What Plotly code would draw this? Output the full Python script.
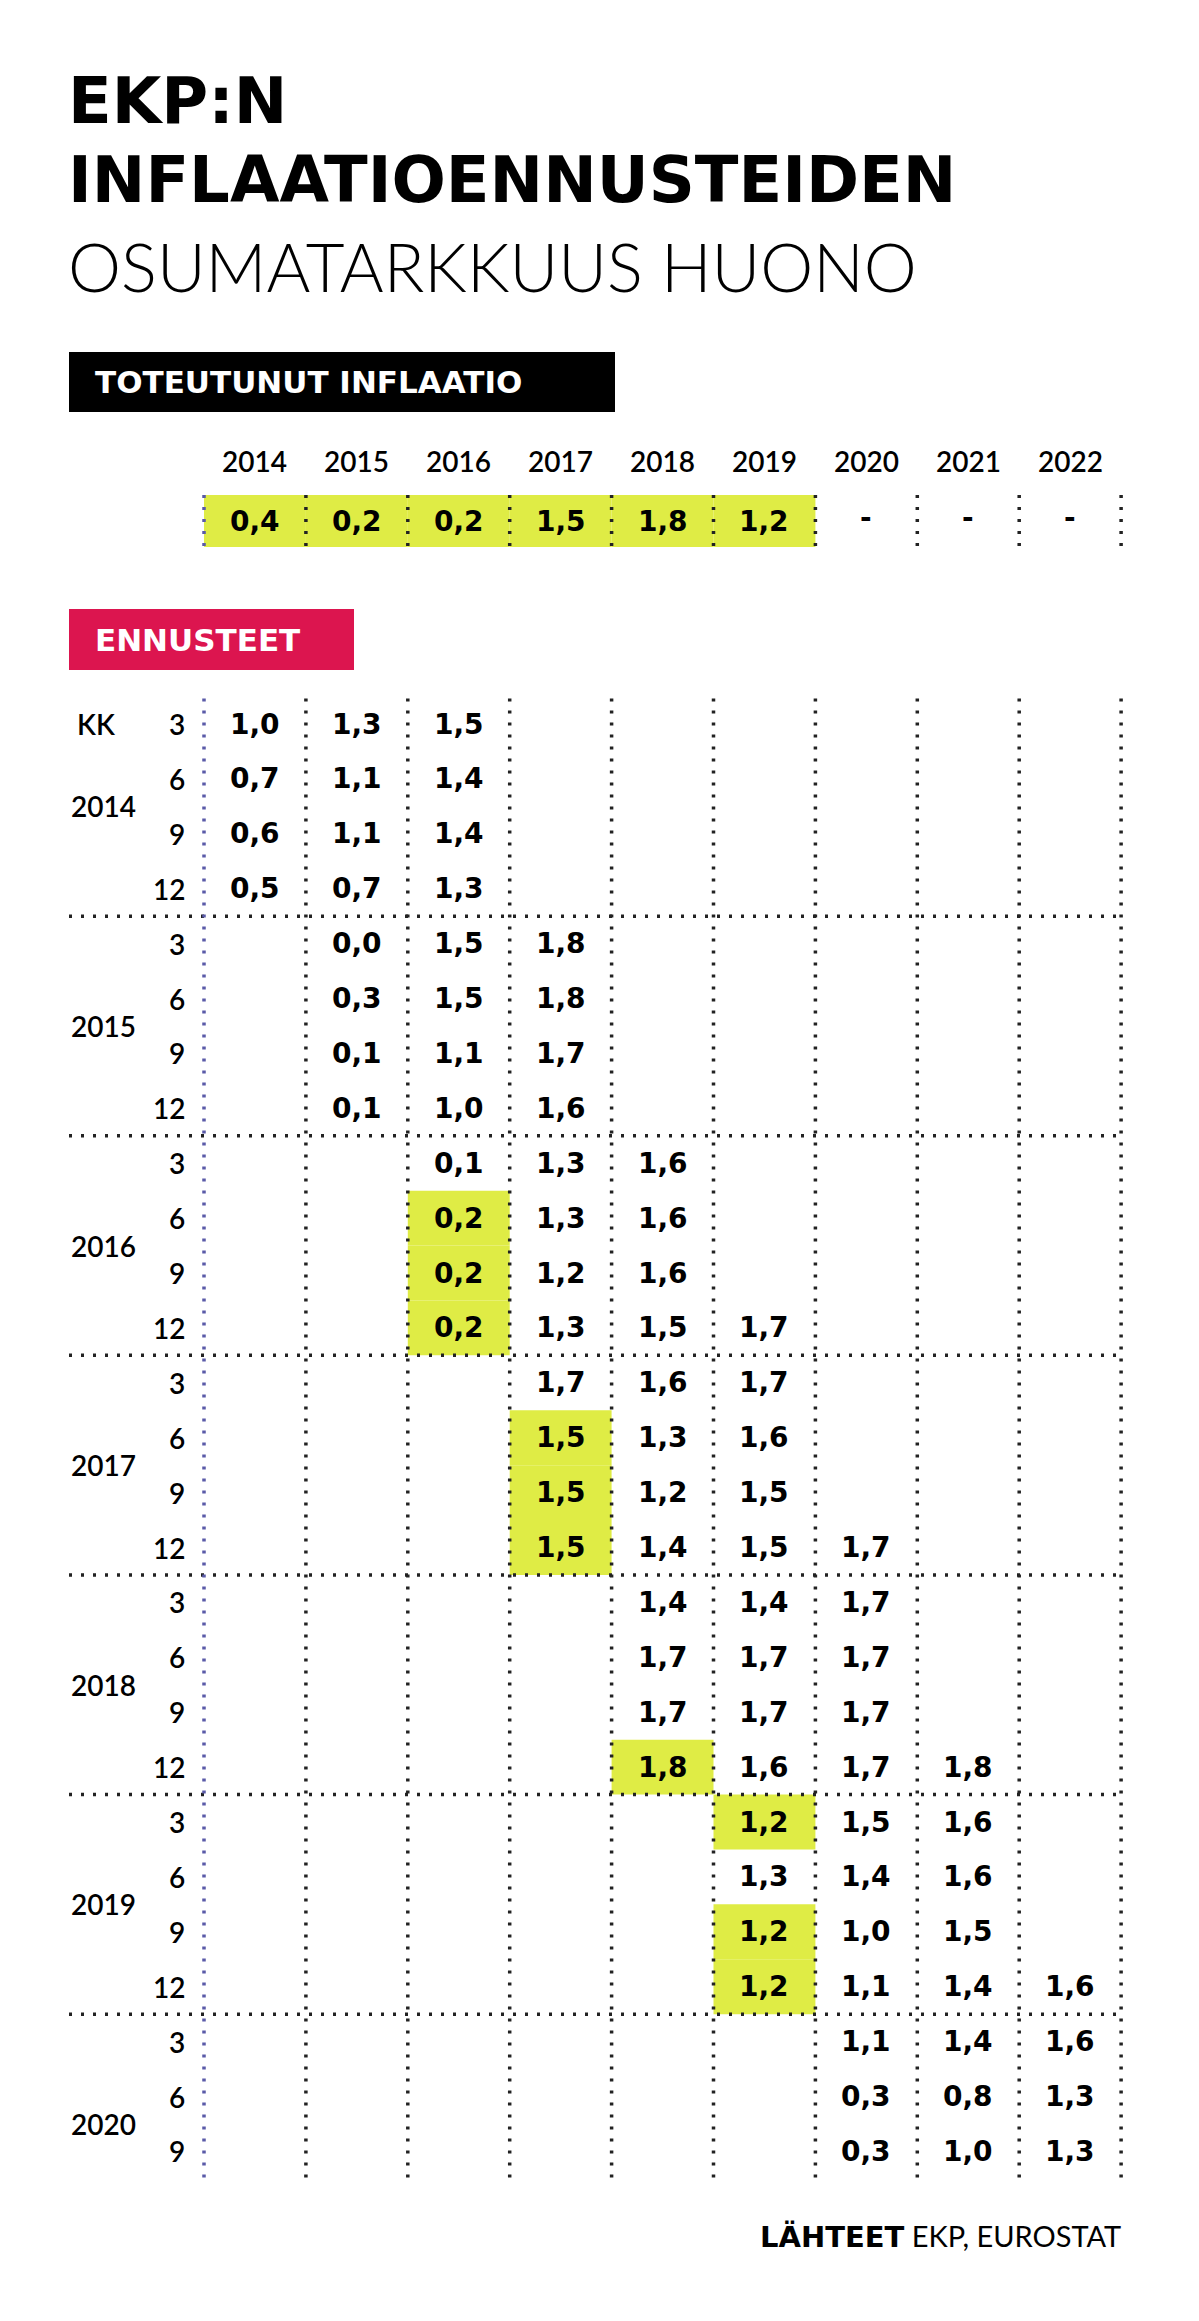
import plotly.graph_objects as go

years = ["2014", "2015", "2016", "2017", "2018", "2019", "2020", "2021", "2022"]
actual = [0.4, 0.2, 0.2, 1.5, 1.8, 1.2, None, None, None]
forecast_years = ["2014", "2015", "2016", "2017", "2018", "2019", "2020"]
months = [3, 6, 9, 12]
start_col = [0, 1, 2, 3, 4, 5, 6]
forecasts = {
    "2014": [[1.0, 1.3, 1.5], [0.7, 1.1, 1.4], [0.6, 1.1, 1.4], [0.5, 0.7, 1.3]],
    "2015": [[0.0, 1.5, 1.8], [0.3, 1.5, 1.8], [0.1, 1.1, 1.7], [0.1, 1.0, 1.6]],
    "2016": [[0.1, 1.3, 1.6], [0.2, 1.3, 1.6], [0.2, 1.2, 1.6], [0.2, 1.3, 1.5, 1.7]],
    "2017": [[1.7, 1.6, 1.7], [1.5, 1.3, 1.6], [1.5, 1.2, 1.5], [1.5, 1.4, 1.5, 1.7]],
    "2018": [[1.4, 1.4, 1.7], [1.7, 1.7, 1.7], [1.7, 1.7, 1.7], [1.8, 1.6, 1.7, 1.8]],
    "2019": [[1.2, 1.5, 1.6], [1.3, 1.4, 1.6], [1.2, 1.0, 1.5], [1.2, 1.1, 1.4, 1.6]],
    "2020": [[1.1, 1.4, 1.6], [0.3, 0.8, 1.3], [0.3, 1.0, 1.3]],
}

W, H = 1199, 2321
X0, CW = 196, 101.9
ROW0, RP = 716, 54.9
LX = 61
YEL, RED = "#dfec45", "#dc154f"
FONT = "Lato"
BOLD = "DejaVu Sans"

def fmt(v):
    return f"{v:.1f}".replace(".", ",")

shapes, ann = [], []

def text(x, y, s, size, weight=900, color="black", xanchor="center", family=FONT):
    ann.append(dict(x=x, y=y, text=s, showarrow=False, xanchor=xanchor, yanchor="middle",
                    font=dict(family=family, size=size, color=color, weight=weight)))

def rect(x0, y0, x1, y1, color):
    shapes.append(dict(type="rect", x0=x0, x1=x1, y0=y0, y1=y1, fillcolor=color, line=dict(width=0), layer="below"))

def dline(x0, y0, x1, y1, color="#222"):
    shapes.append(dict(type="line", x0=x0, x1=x1, y0=y0, y1=y1, line=dict(color=color, width=3.5, dash="3px,9px")))

# Title
text(LX - 3, 93, "EKP:N", 64, 700, xanchor="left", family=BOLD)
text(LX - 3, 172, "INFLAATIOENNUSTEIDEN", 64, 700, xanchor="left", family=BOLD)
text(LX - 3, 258, "OSUMATARKKUUS HUONO", 67, 300, xanchor="left")

# Actual section
rect(LX, 344, 607, 404, "black")
text(LX + 24, 374, "TOTEUTUNUT INFLAATIO", 31, 700, "white", xanchor="left", family=BOLD)
for i, y in enumerate(years):
    cx = X0 + CW * (i + 0.5)
    text(cx, 453, y, 28, 600)
    if actual[i] is not None:
        rect(X0 + CW * i, 487, X0 + CW * (i + 1), 539, YEL)
        text(cx, 513, fmt(actual[i]), 28, 700, family=BOLD)
    else:
        text(cx, 509, "-", 28, 700, family=BOLD)
for i in range(len(years) + 1):
    dline(X0 + CW * i, 487, X0 + CW * i, 539, "#5a5aa8" if i == 0 else "#222")

# Forecast section
rect(LX, 601, 346, 662, RED)
text(LX + 24, 632, "ENNUSTEET", 31, 700, "white", xanchor="left", family=BOLD)

row = 0
for g, fy in enumerate(forecast_years):
    rows = forecasts[fy]
    first = row
    for m_i, vals in enumerate(rows):
        y = ROW0 + RP * row
        text(179, y, str(months[m_i]), 28, 600, xanchor="right")
        for k, v in enumerate(vals):
            c = start_col[g] + k
            cx = X0 + CW * (c + 0.5)
            if k == 0 and actual[c] is not None and abs(v - actual[c]) < 1e-9:
                rect(X0 + CW * c, y - RP / 2, X0 + CW * (c + 1), y + RP / 2, YEL)
            text(cx, y, fmt(v), 28, 700, family=BOLD)
        row += 1
    text(LX, ROW0 + RP * (first + 1.5), fy, 28, 600, xanchor="left")
    if g < len(forecast_years) - 1:
        ys = ROW0 + RP * (row - 0.5)
        dline(LX, ys, X0 + CW * 9, ys)
text(LX + 6, ROW0, "KK", 28, 600, xanchor="left")

ytop, ybot = ROW0 - RP / 2 + 2, ROW0 + RP * (row - 0.5)
for i in range(len(years) + 1):
    dline(X0 + CW * i, ytop, X0 + CW * i, ybot, "#5a5aa8" if i == 0 else "#222")

ann.append(dict(x=1115, y=2228, xanchor="right", yanchor="middle", showarrow=False,
                text="<span style='font-family:DejaVu Sans;font-weight:bold'>LÄHTEET</span> EKP, EUROSTAT",
                font=dict(family=FONT, size=29, color="black", weight=400)))

fig = go.Figure()
fig.update_layout(width=W, height=H, margin=dict(l=0, r=0, t=0, b=0),
                  paper_bgcolor="white", plot_bgcolor="white",
                  xaxis=dict(range=[0, W], visible=False, fixedrange=True),
                  yaxis=dict(range=[H, 0], visible=False, fixedrange=True),
                  shapes=shapes, annotations=ann, showlegend=False)
fig.write_html("out.html")
